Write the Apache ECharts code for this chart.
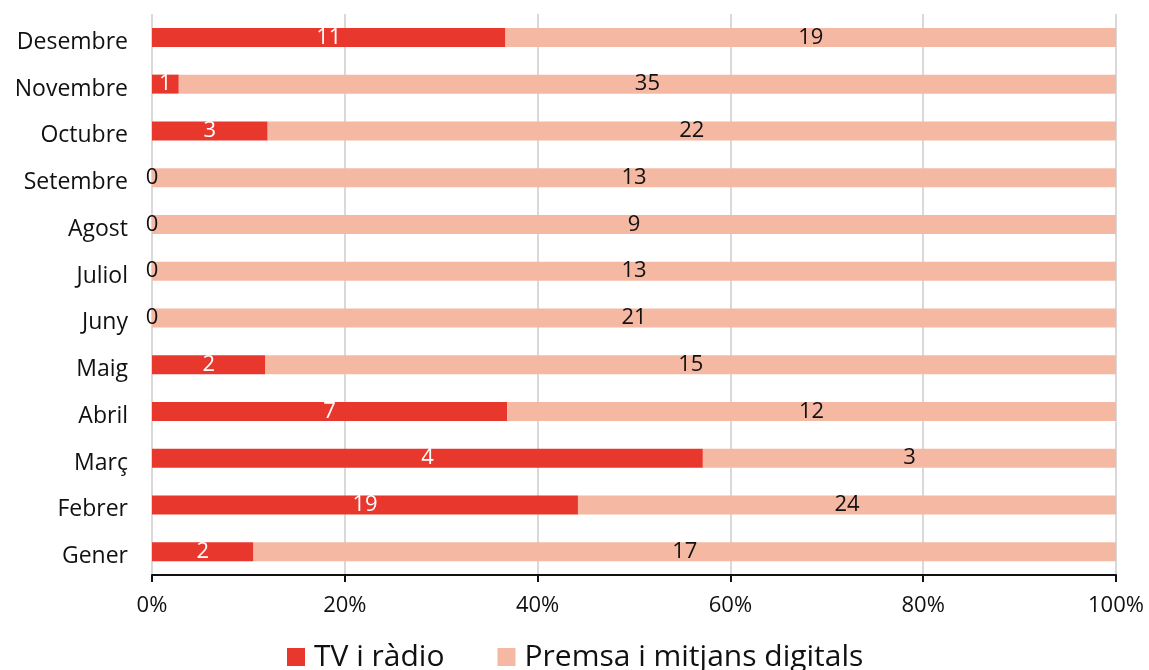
<!DOCTYPE html>
<html>
<head>
<meta charset="utf-8">
<script src="https://cdn.jsdelivr.net/npm/echarts@6/dist/echarts.min.js"></script>
<style>
  html, body { margin: 0; padding: 0; background: #fff; }
  #chart { width: 1149px; height: 670px; }
</style>
</head>
<body>
<div id="chart"></div>
<script>
// Months, bottom to top as drawn on the category axis
const months = ['Gener', 'Febrer', 'Març', 'Abril', 'Maig', 'Juny', 'Juliol', 'Agost', 'Setembre', 'Octubre', 'Novembre', 'Desembre'];
// Counts per month for each media type
const tvRadio = [2, 19, 4, 7, 2, 0, 0, 0, 0, 3, 1, 11];
const premsa = [17, 24, 3, 12, 15, 21, 13, 9, 13, 22, 35, 19];
const seriesNames = ['TV i ràdio', 'Premsa i mitjans digitals'];
const tickLabels = ['0%', '20%', '40%', '60%', '80%', '100%'];

const RED = '#E8372C';
const PINK = '#F5B8A2';
const FONT = '"Open Sans", "Noto Sans", sans-serif';

// Share of each month's total, bars are drawn as percentages and labelled with counts
function shareData(counts, isRed) {
  return counts.map((c, i) => {
    const total = tvRadio[i] + premsa[i];
    const item = { value: total ? (c / total) * 100 : 0, count: c };
    if (isRed && c === 0) item.label = { color: '#111' };
    return item;
  });
}

const chart = echarts.init(document.getElementById('chart'));
chart.setOption({
  animation: false,
  textStyle: { fontFamily: FONT },
  grid: { left: 152, right: 33, top: 14, bottom: 95, containLabel: false },
  legend: {
    data: seriesNames,
    left: 282,
    top: 637,
    itemWidth: 18,
    itemHeight: 18,
    itemGap: 53,
    icon: 'rect',
    textStyle: { fontSize: 30, color: '#111', fontFamily: FONT, padding: [0, 0, 0, 4] }
  },
  xAxis: {
    type: 'value',
    min: 0,
    max: 100,
    interval: 20,
    axisLine: { show: true, lineStyle: { color: '#111', width: 2 } },
    axisTick: { show: true, length: 7, lineStyle: { color: '#111', width: 2 } },
    axisLabel: {
      margin: 20,
      fontSize: 22,
      color: '#111',
      formatter: v => tickLabels[Math.round(v / 20)]
    },
    splitLine: { show: true, lineStyle: { color: '#d9d9d9', width: 2 } }
  },
  yAxis: {
    type: 'category',
    data: months,
    axisLine: { show: false },
    axisTick: { show: false },
    axisLabel: {
      margin: 24,
      color: '#111',
      formatter: v => '{m|' + v + '}',
      rich: { m: { fontSize: 23, color: '#111', fontFamily: FONT, padding: [10, 0, 0, 0] } }
    }
  },
  series: [
    {
      name: seriesNames[0],
      type: 'bar',
      stack: 'total',
      barWidth: 19,
      itemStyle: { color: RED },
      label: {
        show: true,
        position: 'inside',
        color: '#fff',
        fontSize: 22,
        formatter: p => p.data.count
      },
      data: shareData(tvRadio, true)
    },
    {
      name: seriesNames[1],
      type: 'bar',
      stack: 'total',
      barWidth: 19,
      itemStyle: { color: PINK },
      label: {
        show: true,
        position: 'inside',
        color: '#111',
        fontSize: 22,
        formatter: p => p.data.count
      },
      data: shareData(premsa, false)
    }
  ]
});
</script>
</body>
</html>
